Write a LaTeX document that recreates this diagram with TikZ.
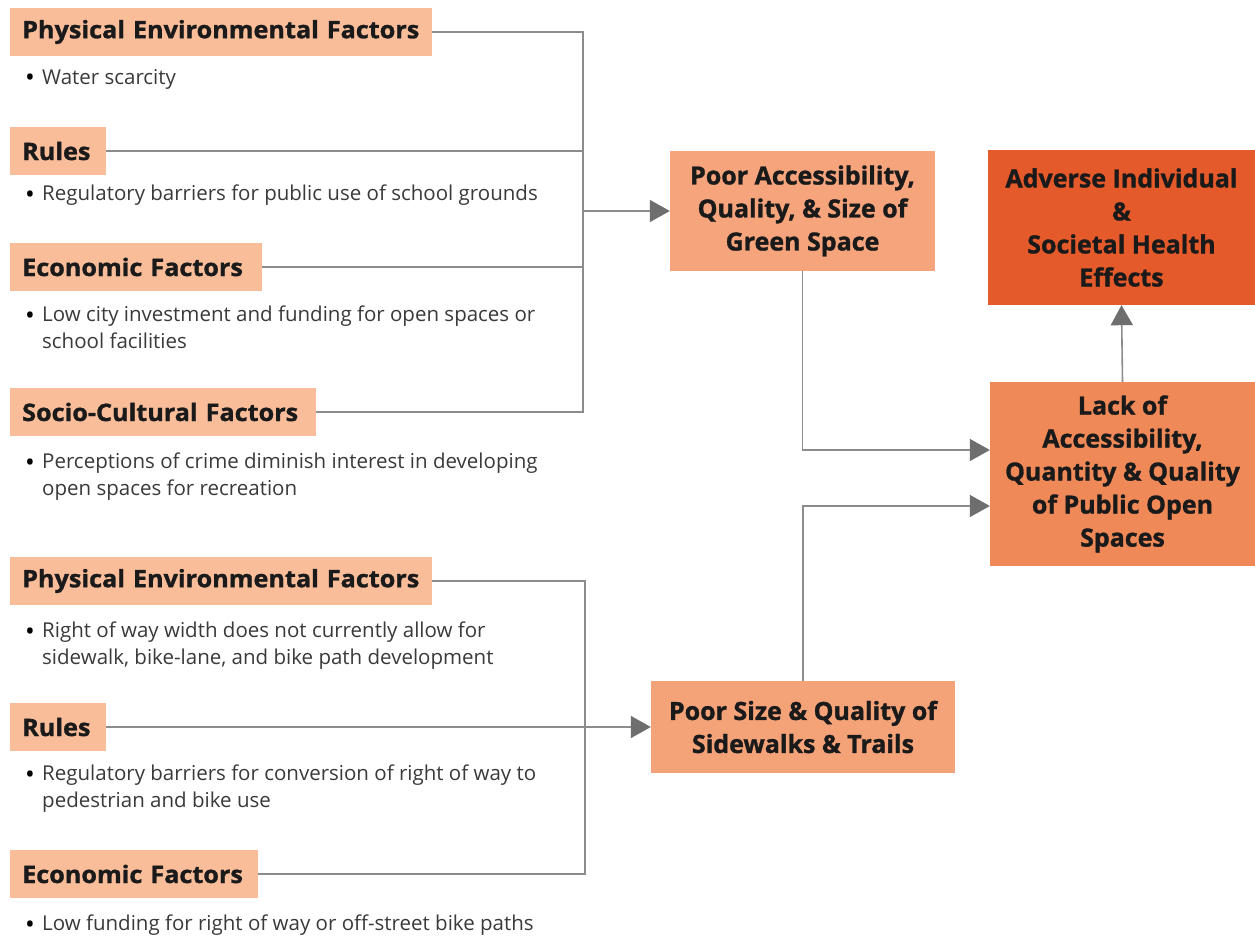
\documentclass[tikz,border=0pt]{standalone}
\usepackage{fontspec}
\setmainfont{Open Sans}
\newfontfamily\hf[FakeStretch=1.05,BoldFeatures={FakeBold=1.2}]{Open Sans}
\newfontfamily\ef[FakeStretch=1.0,BoldFeatures={FakeBold=1.2}]{Open Sans}
\usetikzlibrary{arrows.meta}
\definecolor{hdrfill}{HTML}{F9BD9A}
\definecolor{pafill}{HTML}{F5A47B}
\definecolor{psfill}{HTML}{F4A278}
\definecolor{lackfill}{HTML}{EF8958}
\definecolor{advfill}{HTML}{E45A2A}
\definecolor{conncol}{HTML}{8C8C8C}
\definecolor{tipcol}{HTML}{6E6E6E}
\definecolor{bultext}{HTML}{3A3A3A}
\definecolor{hdrtext}{HTML}{1A1A1A}
\newcommand{\bdot}{\makebox[17bp][l]{\raisebox{-2.5bp}{\textcolor{black}{\fontsize{26bp}{26bp}\selectfont •}}}}
\newcommand{\bind}{\hspace*{17bp}}
\tikzset{
  hdr/.style={fill=hdrfill, anchor=west, inner xsep=12bp, inner ysep=0pt, minimum height=48bp,
    align=left, text=hdrtext, font=\hf\bfseries\fontsize{24bp}{26bp}\selectfont},
  bul/.style={anchor=north west, inner sep=0pt, align=left, text=bultext,
    font=\fontsize{20.5bp}{27bp}\selectfont},
  effect/.style={inner sep=0pt, align=center, text=hdrtext,
    font=\ef\bfseries\fontsize{25bp}{33bp}\selectfont},
  conn/.style={draw=conncol, line width=1.6bp},
  arr/.style={conn, -{Triangle[length=20bp,width=22bp,fill=tipcol,color=tipcol]}},
}
\begin{document}
\begin{tikzpicture}[x=1bp,y=-1bp]
\useasboundingbox (0,0) rectangle (1255,941);
\fill[white] (0,0) rectangle (1255,941);
% ---- top group ----
\node[hdr, text width=398bp] (h1) at (10,32) {Physical Environmental Factors};
\node[bul] (b1) at (25,69) {\bdot Water scarcity};
\node[hdr, text width=72bp] (h2) at (10,151) {Rules};
\node[bul] (b2) at (25,185) {\bdot Regulatory barriers for public use of school grounds};
\node[hdr, text width=228bp] (h3) at (10,267) {Economic Factors};
\node[bul] (b3) at (25,306) {\bdot Low city investment and funding for open spaces or\\\bind school facilities};
\node[hdr, text width=282bp] (h4) at (10,412) {Socio-Cultural Factors};
\node[bul] (b4) at (25,453) {\bdot Perceptions of crime diminish interest in developing\\\bind open spaces for recreation};
% ---- bottom group ----
\node[hdr, text width=398bp] (h5) at (10,581) {Physical Environmental Factors};
\node[bul] (b5) at (25,622) {\bdot Right of way width does not currently allow for\\\bind sidewalk, bike-lane, and bike path development};
\node[hdr, text width=72bp] (h6) at (10,727) {Rules};
\node[bul] (b6) at (25,765) {\bdot Regulatory barriers for conversion of right of way to\\\bind pedestrian and bike use};
\node[hdr, text width=224bp] (h7) at (10,874) {Economic Factors};
\node[bul] (b7) at (25,915) {\bdot Low funding for right of way or off-street bike paths};
% ---- right boxes ----
\node[effect, fill=pafill, minimum width=265bp, minimum height=120bp] (pa) at (802.5,211) {Poor Accessibility,\\Quality, \& Size of\\Green Space};
\node[effect, fill=advfill, minimum width=267bp, minimum height=155bp] (adv) at (1121.5,227.5) {Adverse Individual\\\&\\Societal Health\\Effects};
\node[effect, fill=lackfill, minimum width=265bp, minimum height=184bp] (lack) at (1122.5,474) {Lack of\\Accessibility,\\Quantity \& Quality\\of Public Open\\Spaces};
\node[effect, fill=psfill, minimum width=304bp, minimum height=92bp] (ps) at (803,727) {Poor Size \& Quality of\\Sidewalks \& Trails};
% ---- connectors ----
\coordinate (tv) at (583,0);
\coordinate (bv) at (585,0);
\draw[conn] (h1.east) -- (h1.east -| tv) -- (h4.east -| tv) -- (h4.east);
\draw[conn] (h2.east) -- (h2.east -| tv);
\draw[conn] (h3.east) -- (h3.east -| tv);
\draw[arr] (pa.west -| tv) -- (pa.west);
\draw[conn] (h5.east) -- (h5.east -| bv) -- (h7.east -| bv) -- (h7.east);
\draw[arr] (h6.east) -- (ps.west);
\draw[arr] (pa.south) |- ([yshift=24bp]lack.west);
\draw[arr] (ps.north) |- ([yshift=-32bp]lack.west);
\draw[arr] (lack.north) -- (adv.south);
\end{tikzpicture}
\end{document}
